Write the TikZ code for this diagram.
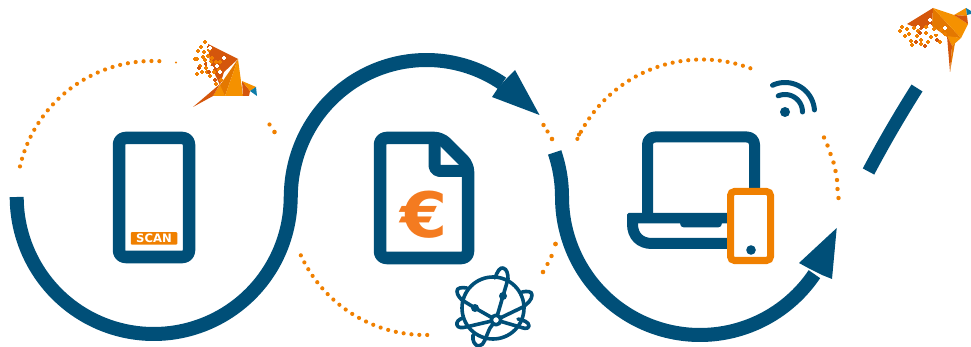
\documentclass[tikz,border=0pt]{standalone}
\usepackage{fontspec}
\usepackage{graphicx}
\setmainfont{DejaVu Sans}
\definecolor{navy}{HTML}{004F78}
\definecolor{orng}{HTML}{F08000}
\definecolor{euro}{HTML}{F47B20}
\definecolor{bdark}{HTML}{D4560C}
\definecolor{bmid}{HTML}{E47800}
\definecolor{bbright}{HTML}{F59100}
\definecolor{bblue}{HTML}{0E7CA8}
\tikzset{
  route/.style={draw=navy,line width=14pt,line cap=butt,line join=round},
  tip/.style={fill=navy},
  dots/.style={draw=orng,line width=4.2pt,line cap=round,dash pattern=on 0pt off 7.9pt},
  dev/.style={draw=navy,line width=12.5pt,line join=round},
  thin/.style={draw=navy,line width=3.6pt,line cap=round,line join=round},
  wave/.style={draw=navy,line width=5pt,line cap=round}
}
\newcommand{\crumbs}[2]{\foreach \a/\b in {#2}{\draw[#1,line width=1.3pt] (\a-1.7,\b)--(\a+1.7,\b) (\a,\b-1.7)--(\a,\b+1.7);}}
\begin{document}
\begin{tikzpicture}[x=1pt,y=-1pt]
\useasboundingbox (0,0) rectangle (971,347);
% route
\draw[route] plot[domain=180:0,samples=90] ({153.7+137*cos(\x)},{197+137*sin(\x)})
  -- plot[domain=180:304,samples=70] ({426.4+135.6*cos(\x)},{197+137*sin(\x)});
\fill[tip] (515,70)--(539.5,115)--(492,97)--(498,88)--(507,78)--cycle;
\draw[route] plot[domain=-19:0,samples=20] ({426.4+135.6*cos(\x)},{197+137*sin(\x)})
  -- plot[domain=180:34,samples=80] ({700+138*cos(\x)},{197+138*sin(\x)});
\fill[tip] (836.7,228)--(832,279)--(822,275)--(810,269)--(799,263)--cycle;
\draw[navy,line width=13pt] (868.5,171.5) .. controls (882,146) and (898,118) .. (917,88);
% dotted arcs
\draw[dots] plot[domain=193:276,samples=80] ({152.5+136*cos(\x)},{197+136*sin(\x)});
\fill[orng] (176,62.5) circle (1.2);
\fill[orng] (269.5,124.5) circle (2.1) (274.5,132) circle (2.3);
\draw[dots] plot[domain=155:87,samples=60] ({425+137*cos(\x)},{197+138*sin(\x)});
\fill[orng] (543.5,125) circle (2.2) (547.5,131.5) circle (2.1) (552,139) circle (2.3);
\fill[orng] (555.5,244) circle (2.4) (551.5,256) circle (2.2) (547.5,264) circle (2.1) (543,272) circle (2.3);
\draw[dots] plot[domain=205:293,samples=90] ({702+137.5*cos(\x)},{197+137.5*sin(\x)});
\fill[orng] (579,134.5) circle (2.1);
\foreach \a/\b in {824/137.5,827.5/145.5,830.5/154,833.5/162.5,835.5/171,837/180,837.5/189,838.5/198}{\fill[orng] (\a,\b) circle (2.2);}
% phone
\draw[dev,rounded corners=6.5pt] (119,138) rectangle (189,257);
\node[fill=orng,rounded corners=1pt,minimum width=46.5pt,minimum height=12.5pt,inner sep=0pt,text=white,font=\fontsize{11.6}{12}\selectfont\bfseries] (scan) at (154,238.3) {SCAN};
% document
\draw[dev,rounded corners=6.5pt] (380,138)--(441,138)--(468,165)--(468,258)--(380,258)--cycle;
\draw[navy,line width=12pt,line join=round,rounded corners=5pt] (434.5,138)--(434.5,171)--(468,171);
\node[text=euro,font=\fontsize{58}{58}\selectfont\bfseries,inner sep=0pt] (eur) at (424.5,215) {\scalebox{1.17}[1.08]{€}};
% globe
\draw[thin] (493,308) circle (31);
\draw[thin] (495,278) .. controls (497,272) and (500,267) .. (503,268) .. controls (507,269) and (508,274) .. (508,279) -- (503,296) -- (496,320);
\draw[thin] (467,288) .. controls (461,287) and (457,288) .. (457,291) .. controls (457,295) and (460,298) .. (462,300) -- (475,308) -- (496,320);
\draw[thin] (522,292) .. controls (527,291) and (532,291) .. (532,295) .. controls (532,300) and (527,304) .. (523,307) -- (496,320);
\draw[thin] (463,318) .. controls (459,319) and (456,322) .. (457,325) .. controls (458,328) and (462,328) .. (466,327) -- (496,320);
\draw[thin] (518,319) .. controls (523,320) and (529,322) .. (529,326) .. controls (528,330) and (523,328) .. (520,327) -- (496,320);
\draw[thin] (473,335) .. controls (472,341) and (475,346) .. (479,346) .. controls (484,346) and (486,336) .. (490,328) -- (496,320);
\draw[thin,fill=white] (496,320) circle (4.8);
\fill[navy] (503,296) circle (4) (475,308) circle (4);
% laptop
\draw[navy,line width=11pt,line join=round,rounded corners=7.5pt] (647.5,218)--(647.5,137)--(754.5,137)--(754.5,200);
\fill[navy,rounded corners=1.5pt] (627,213) rectangle (730,223.5);
\fill[navy,rounded corners=4pt] (680,220) rectangle (722,227.5);
\draw[navy,line width=11pt] (632.5,218)--(632.5,224) .. controls (632.5,236) and (640,243.5) .. (652,243.5) -- (730,243.5);
\draw[orng,line width=7pt,fill=white,rounded corners=4pt] (730.5,191.5) rectangle (770.5,260.5);
\fill[navy] (751,250) circle (4.8);
% wifi
\fill[navy] (785,112) circle (5);
\draw[wave] plot[domain=247:360,samples=30] ({785+17.5*cos(\x)},{112+17.5*sin(\x)});
\draw[wave] plot[domain=245:356,samples=30] ({785+29.5*cos(\x)},{112+29.5*sin(\x)});
% bird one
\fill[bdark] (208,44)--(238,59)--(224,72)--(220,85)--(210,64)--cycle;
\fill[bmid] (238,59)--(220,85)--(213,96)--(225,96)--cycle;
\fill[bbright] (238,59)--(225,96)--(243,96)--cycle;
\fill[bbright] (213,96)--(220,85)--(225,96)--cycle;
\fill[bdark] (193,107)--(220,84)--(213,96)--cycle;
\fill[bdark] (242,81)--(250,91)--(249,96)--(243,96)--cycle;
\fill[bbright] (242,81)--(256,87)--(250,91)--cycle;
\fill[bblue] (256,87)--(250,91)--(257,96)--cycle;
\crumbs{orng}{205/42,201/47,198/51,204/52,209/50,197/59,205/60,200/66,206/68,212/58,202/72,197/74,210/76,214/72,216/84,221/80,216/62,220/62,219/70,195/59,208/56,203/57,211/62,207/72}
\crumbs{bdark}{209/47,206/64,199/68,209/72,219/76,215/80}
\crumbs{white}{210/48,209/64,217/66,224/58,220/72,212/68}
% bird two
\fill[bdark] (907,24)--(933,8)--(932,26)--(921,30)--cycle;
\fill[bmid] (933,8)--(932,26)--(947,37)--(961,38)--cycle;
\fill[bbright] (933,8)--(954,15)--(968,24)--(961,38)--cycle;
\fill[bbright] (947,36)--(961,38)--(952,46)--cycle;
\fill[bdark] (947,36)--(952,46)--(950,72)--cycle;
\fill[bmid] (952,46)--(955,43)--(950,72)--cycle;
\fill[bbright] (954,15)--(966,8)--(967,16)--cycle;
\fill[bdark] (954,15)--(967,16)--(968,24)--cycle;
\fill[bblue] (966,8)--(971,11)--(971,14)--(967,15)--cycle;
\crumbs{orng}{902/27,900/31,905/36,909/34,914/28,917/36,921/40,911/41,926/33,931/37,936/35,940/42,928/42,926/27,941/30,945/34,912/45,921/44,907/29,918/31,934/29}
\crumbs{bdark}{920/33,916/42,937/40,925/46}
\crumbs{white}{924/30,918/27,930/26,936/32,945/28,930/20}
\end{tikzpicture}
\end{document}
